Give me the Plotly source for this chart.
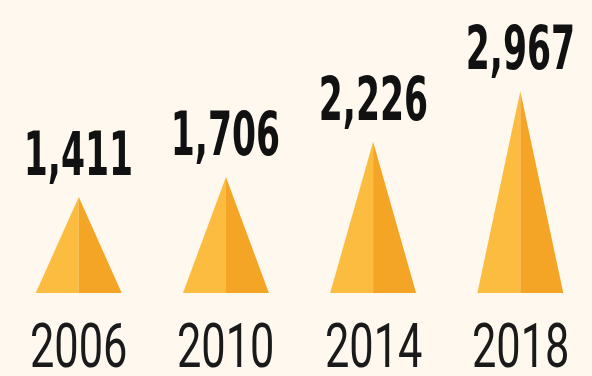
import plotly.graph_objects as go

years = ["2006", "2010", "2014", "2018"]
values = [1411, 1706, 2226, 2967]
value_labels = ["1,411", "1,706", "2,226", "2,967"]

BG = "#FEF8EE"
LIGHT = "#FBBC40"
DARK = "#F4A526"
HALF = 0.292
VAL_FONT = "DejaVu Sans Condensed, DejaVu Sans, sans-serif"
YEAR_FONT = "Roboto, DejaVu Sans Condensed, sans-serif"

fig = go.Figure()
for i, v in enumerate(values):
    fig.add_trace(go.Scatter(
        x=[i - HALF, i, i, i - HALF], y=[0, v, 0, 0],
        fill="toself", fillcolor=LIGHT, mode="lines",
        line=dict(width=0, color=LIGHT), hoverinfo="skip", showlegend=False))
    fig.add_trace(go.Scatter(
        x=[i, i + HALF, i, i], y=[v, 0, 0, v],
        fill="toself", fillcolor=DARK, mode="lines",
        line=dict(width=0, color=DARK), hoverinfo="skip", showlegend=False))
    fig.add_annotation(
        x=i, y=v, text="<b>" + value_labels[i] + "</b>", showarrow=False,
        xanchor="center", yanchor="bottom", yshift=6,
        font=dict(family=VAL_FONT, size=60, color="#111111"))
    fig.add_annotation(
        x=i, y=0, text=years[i], showarrow=False,
        xanchor="center", yanchor="top", yshift=-14,
        font=dict(family=YEAR_FONT, size=62, color="#1a1a1a", weight=400))

fig.update_layout(
    width=592, height=376,
    margin=dict(l=0, r=0, t=0, b=0),
    paper_bgcolor=BG, plot_bgcolor=BG,
    xaxis=dict(range=[-0.535, 3.487], visible=False, fixedrange=True),
    yaxis=dict(range=[-1220, 4309], visible=False, fixedrange=True),
)

# horizontally condense the label text (the reference uses a condensed face)
post = """
var gd = document.getElementById('{plot_id}');
gd.querySelectorAll('g.annotation text.annotation-text').forEach(function(t){
  var s = t.textContent.indexOf(',') >= 0 ? 0.64 : 0.7;
  var b = t.getBBox();
  var cx = b.x + b.width / 2;
  var old = t.getAttribute('transform') || '';
  t.setAttribute('transform', 'translate(' + cx + ',0) scale(' + s + ',1) translate(' + (-cx) + ',0) ' + old);
});
"""

fig.write_html("out.html", post_script=post)
